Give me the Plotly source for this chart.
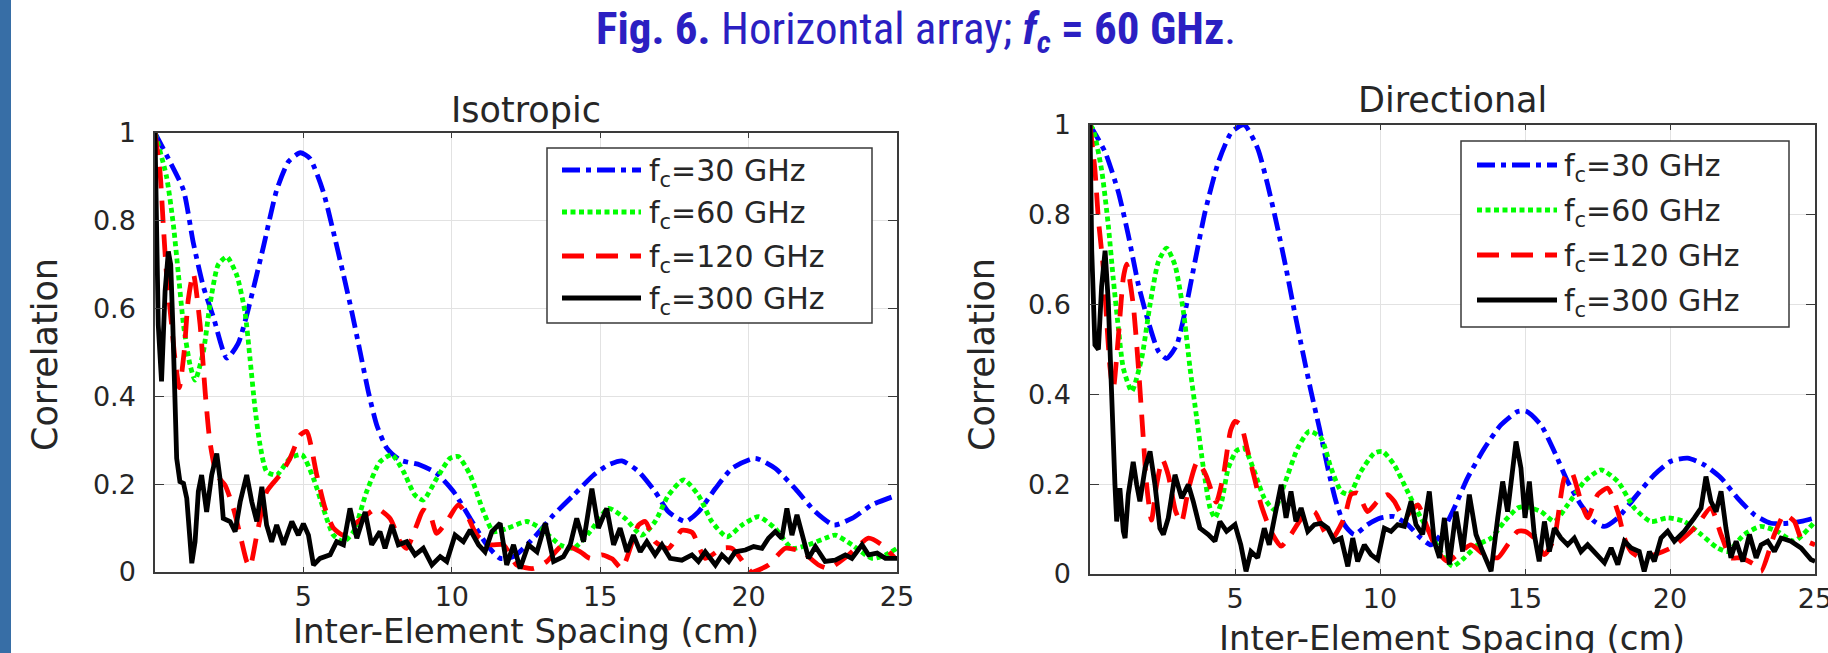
import plotly.graph_objects as go

W, H = 1828, 653

# ---------------- data ----------------
x_ticks = [5, 10, 15, 20, 25]
x_tick_text = ["5", "10", "15", "20", "25"]
y_ticks = [0, 0.2, 0.4, 0.6, 0.8, 1.0]
y_tick_text = ["0", "0.2", "0.4", "0.6", "0.8", "1"]

series_names = ["f<sub>c</sub>=30 GHz", "f<sub>c</sub>=60 GHz", "f<sub>c</sub>=120 GHz", "f<sub>c</sub>=300 GHz"]

# Isotropic panel (x in cm, correlation)
iso_30 = [(0, 1.0), (0.5, 0.935), (0.96, 0.87), (1.29, 0.75), (1.63, 0.65), (1.97, 0.58), (2.42, 0.487),
          (2.8, 0.52), (3.09, 0.585), (3.65, 0.74), (4.1, 0.87), (4.5, 0.935), (4.9, 0.955), (5.22, 0.942),
          (5.67, 0.866), (6.01, 0.775), (6.35, 0.677), (6.63, 0.593), (6.91, 0.502), (7.19, 0.41), (7.47, 0.335),
          (7.81, 0.282), (8.26, 0.255), (8.93, 0.244), (9.49, 0.225), (10.06, 0.183), (10.62, 0.122),
          (11.18, 0.062), (11.63, 0.031), (12.08, 0.035), (12.75, 0.077), (13.43, 0.13), (14.1, 0.175),
          (14.78, 0.221), (15.28, 0.244), (15.73, 0.253), (16.29, 0.229), (16.85, 0.183), (17.3, 0.137),
          (17.87, 0.115), (18.31, 0.137), (18.88, 0.19), (19.44, 0.236), (20.22, 0.259), (20.9, 0.236),
          (21.57, 0.19), (22.25, 0.137), (22.87, 0.107), (23.48, 0.122), (24.16, 0.153), (25, 0.175)]

iso_60 = [(0, 1.0), (0.39, 0.9), (0.62, 0.79), (0.79, 0.677), (0.96, 0.563), (1.18, 0.472), (1.35, 0.437),
          (1.63, 0.502), (1.85, 0.608), (2.13, 0.70), (2.42, 0.718), (2.75, 0.677), (3.03, 0.593), (3.2, 0.487),
          (3.37, 0.373), (3.54, 0.289), (3.76, 0.229), (4.1, 0.221), (4.55, 0.259), (4.95, 0.267), (5.34, 0.213),
          (5.67, 0.145), (6.01, 0.084), (6.35, 0.069), (6.69, 0.092), (7.13, 0.183), (7.58, 0.251), (7.98, 0.267),
          (8.37, 0.229), (8.76, 0.175), (9.04, 0.164), (9.49, 0.213), (9.94, 0.259), (10.22, 0.263),
          (10.62, 0.221), (11.07, 0.137), (11.4, 0.092), (11.85, 0.099), (12.53, 0.115), (12.98, 0.1),
          (13.65, 0.062), (14.1, 0.054), (14.66, 0.092), (15.28, 0.145), (15.84, 0.122), (16.4, 0.084),
          (16.85, 0.115), (17.3, 0.175), (17.81, 0.21), (18.31, 0.175), (18.76, 0.115), (19.27, 0.08),
          (19.78, 0.107), (20.34, 0.126), (20.9, 0.099), (21.46, 0.054), (22.02, 0.062), (22.58, 0.077),
          (22.92, 0.084), (23.48, 0.062), (24.16, 0.031), (24.61, 0.039), (25, 0.054)]

iso_120 = [(0, 1.0), (0.17, 0.91), (0.28, 0.79), (0.39, 0.677), (0.56, 0.563), (0.67, 0.487), (0.82, 0.42),
           (0.98, 0.5), (1.12, 0.62), (1.29, 0.68), (1.52, 0.563), (1.69, 0.41), (1.85, 0.297), (2.08, 0.221),
           (2.36, 0.198), (2.64, 0.145), (2.87, 0.084), (3.09, 0.024), (3.2, 0.012), (3.43, 0.084), (3.76, 0.183),
           (4.21, 0.221), (4.55, 0.259), (4.89, 0.312), (5.11, 0.32), (5.45, 0.221), (5.73, 0.145), (6.01, 0.1),
           (6.35, 0.084), (6.69, 0.107), (7.13, 0.13), (7.47, 0.145), (7.92, 0.122), (8.26, 0.069), (8.48, 0.054),
           (8.82, 0.107), (9.04, 0.141), (9.27, 0.13), (9.49, 0.088), (9.83, 0.115), (10.22, 0.153),
           (10.51, 0.13), (10.84, 0.084), (11.29, 0.062), (11.74, 0.062), (12.19, 0.016), (12.75, 0.008),
           (13.2, 0.024), (13.76, 0.062), (14.33, 0.046), (14.66, 0.031), (15.06, 0.039), (15.4, 0.03),
           (15.73, 0.008), (16.29, 0.107), (16.52, 0.115), (16.85, 0.069), (17.3, 0.054), (17.75, 0.095),
           (18.1, 0.09), (18.54, 0.031), (19.1, 0.054), (19.44, 0.054), (19.89, 0.016), (20.1, 0.0),
           (20.67, 0.016), (21.24, 0.054), (21.8, 0.046), (22.36, 0.016), (22.7, 0.008), (23.37, 0.039),
           (24.04, 0.077), (24.49, 0.062), (24.94, 0.031)]

iso_300 = [(0, 1.0), (0.05, 0.8), (0.11, 0.563), (0.22, 0.434), (0.34, 0.64), (0.45, 0.73), (0.53, 0.70),
           (0.6, 0.563), (0.67, 0.41), (0.73, 0.259), (0.84, 0.206), (0.96, 0.202), (1.07, 0.168), (1.18, 0.069),
           (1.24, 0.02), (1.35, 0.069), (1.46, 0.183), (1.57, 0.221), (1.74, 0.137), (1.91, 0.221), (2.08, 0.27),
           (2.19, 0.213), (2.3, 0.122), (2.53, 0.115), (2.7, 0.092), (2.87, 0.16), (3.09, 0.221), (3.26, 0.16),
           (3.43, 0.115), (3.6, 0.194), (3.76, 0.107), (3.93, 0.069), (4.1, 0.107), (4.33, 0.062), (4.61, 0.115),
           (4.83, 0.084), (5.0, 0.11), (5.17, 0.084), (5.34, 0.016), (5.56, 0.031), (5.9, 0.039), (6.12, 0.069),
           (6.35, 0.062), (6.57, 0.145), (6.8, 0.077), (7.08, 0.137), (7.3, 0.062), (7.58, 0.092), (7.75, 0.054),
           (7.98, 0.107), (8.2, 0.062), (8.48, 0.069), (8.76, 0.039), (9.04, 0.054), (9.33, 0.016), (9.61, 0.035),
           (9.83, 0.024), (10.11, 0.084), (10.39, 0.069), (10.62, 0.096), (10.9, 0.062), (11.12, 0.046),
           (11.35, 0.092), (11.63, 0.111), (11.85, 0.016), (12.08, 0.062), (12.3, 0.008), (12.58, 0.062),
           (12.87, 0.046), (13.15, 0.111), (13.43, 0.024), (13.76, 0.035), (13.99, 0.062), (14.21, 0.122),
           (14.44, 0.069), (14.72, 0.19), (14.94, 0.1), (15.22, 0.145), (15.45, 0.062), (15.67, 0.1),
           (15.9, 0.046), (16.12, 0.084), (16.35, 0.046), (16.57, 0.069), (16.85, 0.039), (17.08, 0.062),
           (17.36, 0.031), (17.75, 0.027), (18.09, 0.039), (18.31, 0.024), (18.54, 0.046), (18.88, 0.016),
           (19.1, 0.039), (19.33, 0.024), (19.55, 0.046), (19.89, 0.05), (20.17, 0.058), (20.45, 0.054),
           (20.67, 0.077), (20.9, 0.092), (21.12, 0.077), (21.29, 0.145), (21.46, 0.084), (21.63, 0.13),
           (21.85, 0.069), (22.02, 0.031), (22.25, 0.058), (22.58, 0.024), (22.92, 0.027), (23.26, 0.039),
           (23.48, 0.031), (23.82, 0.062), (24.04, 0.039), (24.33, 0.043), (24.61, 0.031), (25.0, 0.031)]

# Directional panel
dir_30 = [(0, 1.0), (0.52, 0.94), (0.98, 0.85), (1.32, 0.755), (1.67, 0.644), (2.01, 0.562), (2.36, 0.496),
          (2.64, 0.48), (2.99, 0.51), (3.28, 0.585), (3.62, 0.696), (3.97, 0.807), (4.43, 0.918), (4.89, 0.985),
          (5.32, 1.0), (5.78, 0.948), (6.13, 0.866), (6.47, 0.77), (6.76, 0.681), (7.05, 0.585), (7.33, 0.496),
          (7.62, 0.407), (7.91, 0.325), (8.2, 0.236), (8.48, 0.162), (8.77, 0.11), (9.11, 0.088), (9.57, 0.11),
          (10.03, 0.125), (10.49, 0.128), (10.95, 0.11), (11.41, 0.08), (11.76, 0.065), (12.1, 0.088),
          (12.56, 0.147), (13.02, 0.214), (13.6, 0.28), (14.17, 0.332), (14.75, 0.362), (15.03, 0.363),
          (15.55, 0.332), (16.01, 0.273), (16.47, 0.206), (16.93, 0.154), (17.39, 0.117), (17.74, 0.106),
          (18.2, 0.125), (18.77, 0.169), (19.46, 0.221), (20.03, 0.251), (20.61, 0.258), (21.18, 0.243),
          (21.76, 0.214), (22.33, 0.169), (22.91, 0.132), (23.48, 0.113), (24.06, 0.113), (24.52, 0.117),
          (25, 0.125)]

dir_60 = [(0, 1.0), (0.11, 0.99), (0.4, 0.9), (0.63, 0.777), (0.8, 0.659), (0.98, 0.547), (1.15, 0.458),
          (1.44, 0.407), (1.78, 0.48), (2.07, 0.6), (2.36, 0.696), (2.64, 0.726), (2.93, 0.688), (3.22, 0.585),
          (3.45, 0.458), (3.68, 0.347), (3.91, 0.236), (4.14, 0.147), (4.31, 0.125), (4.54, 0.162),
          (4.77, 0.236), (5.06, 0.275), (5.32, 0.28), (5.67, 0.228), (6.01, 0.169), (6.36, 0.143), (6.7, 0.199),
          (7.16, 0.28), (7.56, 0.318), (7.97, 0.303), (8.31, 0.236), (8.66, 0.184), (8.94, 0.177), (9.34, 0.228),
          (9.8, 0.269), (10.09, 0.273), (10.49, 0.243), (10.95, 0.184), (11.41, 0.125), (11.76, 0.088),
          (12.22, 0.036), (12.51, 0.017), (12.91, 0.036), (13.37, 0.065), (13.83, 0.08), (14.29, 0.117),
          (14.75, 0.147), (15.03, 0.15), (15.55, 0.139), (16.01, 0.117), (16.47, 0.154), (17.05, 0.206),
          (17.62, 0.232), (18.2, 0.206), (18.77, 0.147), (19.34, 0.117), (19.92, 0.125), (20.49, 0.117),
          (21.07, 0.088), (21.64, 0.058), (21.99, 0.05), (22.56, 0.088), (23.13, 0.106), (23.7, 0.095),
          (24.28, 0.073), (25, 0.117)]

dir_120 = [(0, 1.0), (0.17, 0.9), (0.29, 0.79), (0.46, 0.68), (0.57, 0.57), (0.69, 0.46), (0.8, 0.41),
           (0.98, 0.53), (1.15, 0.66), (1.26, 0.69), (1.49, 0.6), (1.67, 0.46), (1.84, 0.3), (1.95, 0.2),
           (2.12, 0.12), (2.3, 0.2), (2.5, 0.255), (2.7, 0.22), (2.95, 0.14), (3.15, 0.115), (3.4, 0.19),
           (3.7, 0.25), (4.0, 0.22), (4.35, 0.16), (4.6, 0.22), (4.85, 0.32), (5.0, 0.34), (5.2, 0.332),
           (5.44, 0.273), (5.67, 0.214), (5.9, 0.154), (6.24, 0.095), (6.59, 0.062), (6.93, 0.088), (7.39, 0.132),
           (7.74, 0.139), (8.08, 0.095), (8.31, 0.076), (8.77, 0.125), (9.0, 0.177), (9.23, 0.18), (9.57, 0.139),
           (9.92, 0.162), (10.26, 0.177), (10.49, 0.162), (10.84, 0.125), (11.3, 0.154), (11.64, 0.102),
           (11.99, 0.05), (12.33, 0.028), (12.79, 0.05), (13.14, 0.065), (13.6, 0.043), (14.06, 0.036),
           (14.4, 0.065), (14.75, 0.095), (15.0, 0.095), (15.32, 0.08), (15.67, 0.043), (16.01, 0.08),
           (16.36, 0.214), (16.59, 0.228), (16.93, 0.162), (17.16, 0.125), (17.51, 0.177), (17.85, 0.191),
           (18.2, 0.139), (18.43, 0.08), (18.66, 0.05), (19.0, 0.036), (19.46, 0.043), (20.03, 0.058),
           (20.61, 0.088), (20.95, 0.11), (21.41, 0.147), (21.76, 0.088), (22.1, 0.036), (22.45, 0.036),
           (22.91, 0.021), (23.14, 0.006), (23.6, 0.088), (23.94, 0.132), (24.29, 0.117), (24.52, 0.08),
           (25, 0.065)]

dir_300 = [(0, 1.0), (0.06, 0.72), (0.17, 0.51), (0.29, 0.5), (0.4, 0.64), (0.52, 0.72), (0.63, 0.607),
           (0.69, 0.495), (0.75, 0.347), (0.86, 0.199), (0.92, 0.117), (1.03, 0.191), (1.15, 0.095), (1.21, 0.08),
           (1.32, 0.177), (1.49, 0.25), (1.61, 0.199), (1.72, 0.162), (1.9, 0.236), (2.07, 0.273), (2.24, 0.199),
           (2.41, 0.102), (2.53, 0.088), (2.7, 0.125), (2.93, 0.221), (3.16, 0.169), (3.39, 0.199), (3.56, 0.162),
           (3.79, 0.102), (4.08, 0.088), (4.31, 0.073), (4.48, 0.117), (4.71, 0.095), (5.0, 0.11), (5.2, 0.065),
           (5.38, 0.006), (5.55, 0.05), (5.78, 0.036), (6.01, 0.102), (6.18, 0.065), (6.36, 0.125), (6.59, 0.199),
           (6.76, 0.125), (6.93, 0.184), (7.1, 0.117), (7.28, 0.147), (7.51, 0.095), (7.74, 0.11), (7.97, 0.113),
           (8.2, 0.102), (8.43, 0.073), (8.66, 0.08), (8.89, 0.017), (9.06, 0.08), (9.23, 0.028), (9.46, 0.065),
           (9.69, 0.043), (9.92, 0.032), (10.15, 0.102), (10.38, 0.095), (10.61, 0.11), (10.84, 0.106),
           (11.07, 0.162), (11.24, 0.11), (11.47, 0.088), (11.7, 0.184), (11.87, 0.073), (12.05, 0.036),
           (12.22, 0.125), (12.39, 0.021), (12.62, 0.139), (12.85, 0.05), (13.08, 0.177), (13.31, 0.088),
           (13.54, 0.05), (13.83, 0.006), (14.06, 0.125), (14.23, 0.206), (14.4, 0.139), (14.69, 0.295),
           (14.86, 0.236), (15.0, 0.125), (15.15, 0.206), (15.32, 0.088), (15.49, 0.028), (15.67, 0.117),
           (15.84, 0.05), (16.01, 0.102), (16.24, 0.08), (16.47, 0.065), (16.7, 0.08), (16.93, 0.05),
           (17.16, 0.065), (17.45, 0.043), (17.74, 0.025), (17.97, 0.058), (18.2, 0.021), (18.43, 0.073),
           (18.66, 0.058), (18.94, 0.05), (19.11, 0.006), (19.29, 0.05), (19.46, 0.028), (19.69, 0.08),
           (19.92, 0.095), (20.15, 0.073), (20.49, 0.095), (20.84, 0.125), (21.07, 0.147), (21.24, 0.217),
           (21.41, 0.162), (21.59, 0.139), (21.76, 0.184), (21.93, 0.102), (22.1, 0.036), (22.28, 0.073),
           (22.51, 0.028), (22.74, 0.088), (22.97, 0.036), (23.14, 0.065), (23.37, 0.073), (23.6, 0.05),
           (23.83, 0.08), (24.17, 0.073), (24.52, 0.058), (24.86, 0.032), (25, 0.028)]

# ---------------- styles ----------------
LW = 4.8
styles = [
    dict(color="#0000ff", dash="18px,6px,5px,6px", shape="spline"),
    dict(color="#00ff00", dash="5px,3.5px", shape="spline"),
    dict(color="#ff0000", dash="22px,12px", shape="spline"),
    dict(color="#000000", dash="solid", shape="linear"),
]
TXT = "#262626"
FONT = "DejaVu Sans"


def px(x):
    return x / W


def py(y):
    return 1 - y / H


fig = go.Figure()

panels = [
    dict(data=[iso_30, iso_60, iso_120, iso_300], xa="x", ya="y",
         xdom=(155, 897), ydom=(572, 133)),
    dict(data=[dir_30, dir_60, dir_120, dir_300], xa="x2", ya="y2",
         xdom=(1090, 1815), ydom=(574, 125)),
]

for p in panels:
    for s, st, name in zip(p["data"], styles, series_names):
        fig.add_trace(go.Scatter(
            x=[v[0] for v in s], y=[v[1] for v in s], mode="lines", name=name,
            xaxis=p["xa"], yaxis=p["ya"], showlegend=False, hoverinfo="skip",
            line=dict(color=st["color"], width=LW, dash=st["dash"], shape=st["shape"], smoothing=0.6),
        ))

axis_common = dict(
    showline=True, linecolor="#3a3a3a", linewidth=1.5, mirror="ticks",
    ticks="inside", tickcolor="#3a3a3a", tickwidth=1.2,
    showgrid=True, gridcolor="#e2e2e2", gridwidth=1, zeroline=False, automargin=False,
    ticklabeloverflow="allow",
    tickfont=dict(family=FONT, size=27, color=TXT),
)

layout = dict(
    template="none",
    width=W, height=H, autosize=False, margin=dict(l=0, r=0, t=0, b=0, pad=0, autoexpand=False),
    paper_bgcolor="white", plot_bgcolor="white", showlegend=False,
)
for i, p in enumerate(panels):
    sfx = "" if i == 0 else "2"
    layout["xaxis" + sfx] = dict(
        axis_common, domain=[px(p["xdom"][0]), px(p["xdom"][1])], anchor="y" + sfx,
        range=[0, 25], tickvals=x_ticks, ticktext=x_tick_text, ticklen=5, ticklabelstandoff=0,
    )
    layout["yaxis" + sfx] = dict(
        axis_common, domain=[py(p["ydom"][0]), py(p["ydom"][1])], anchor="x" + sfx,
        range=[0, 1], tickvals=y_ticks, ticktext=y_tick_text, ticklen=9, ticklabelstandoff=12,
    )
fig.update_layout(**layout)

ann = []
shapes = []

# left blue bar
shapes.append(dict(type="rect", xref="paper", yref="paper", x0=0, x1=px(11), y0=0, y1=1,
                   fillcolor="#376ea6", line=dict(width=0), layer="below"))

# main title
ann.append(dict(text="<b>Fig. 6.</b> Horizontal array; <b><i>f<sub>c</sub></i> = 60 GHz</b>.",
                x=px(916), y=py(31), xref="paper", yref="paper", xanchor="center", yanchor="middle",
                showarrow=False,
                font=dict(family="Liberation Sans Narrow, Arial Narrow, Roboto Condensed, Roboto, sans-serif",
                          size=45, color="#2b1fc2")))

panel_titles = [("Isotropic", 526, 110), ("Directional", 1452, 100)]
for t, x, y in panel_titles:
    ann.append(dict(text=t, x=px(x), y=py(y), xref="paper", yref="paper", xanchor="center",
                    yanchor="middle", showarrow=False, font=dict(family=FONT, size=35, color=TXT)))

x_titles = [("Inter-Element Spacing (cm)", 526, 631), ("Inter-Element Spacing (cm)", 1452, 638)]
for t, x, y in x_titles:
    ann.append(dict(text=t, x=px(x), y=py(y), xref="paper", yref="paper", xanchor="center",
                    yanchor="middle", showarrow=False, font=dict(family=FONT, size=34, color=TXT)))

y_titles = [("Correlation", 45, 355), ("Correlation", 982, 355)]
for t, x, y in y_titles:
    ann.append(dict(text=t, x=px(x), y=py(y), xref="paper", yref="paper", xanchor="center",
                    yanchor="middle", textangle=-90, showarrow=False,
                    font=dict(family=FONT, size=35, color=TXT)))

# legends (boxes drawn in page coordinates)
legends = [
    dict(box=(547, 872, 148, 323), rows=[170, 212, 256, 298], line=(562, 641), text_x=647),
    dict(box=(1461, 1789, 141, 327), rows=[165, 210, 255, 300], line=(1477, 1557), text_x=1562),
]
for lg in legends:
    x0, x1, y0, y1 = lg["box"]
    shapes.append(dict(type="rect", xref="paper", yref="paper", x0=px(x0), x1=px(x1), y0=py(y1), y1=py(y0),
                       fillcolor="white", line=dict(color="#3a3a3a", width=1.5)))
    for r, st, name in zip(lg["rows"], styles, series_names):
        shapes.append(dict(type="line", xref="paper", yref="paper", x0=px(lg["line"][0]), x1=px(lg["line"][1]),
                           y0=py(r), y1=py(r), line=dict(color=st["color"], width=LW, dash=st["dash"])))
        ann.append(dict(text=name, x=px(lg["text_x"]), y=py(r + 2), xref="paper", yref="paper",
                        xanchor="left", yanchor="middle", showarrow=False,
                        font=dict(family=FONT, size=30, color=TXT)))

fig.update_layout(annotations=ann, shapes=shapes)

post = ("document.documentElement.style.margin='0';document.body.style.margin='0';"
        "document.body.style.padding='0';document.documentElement.style.overflow='hidden';"
        "document.body.style.overflow='hidden';")

fig.write_html("out.html", config={"displayModeBar": False}, post_script=post)
